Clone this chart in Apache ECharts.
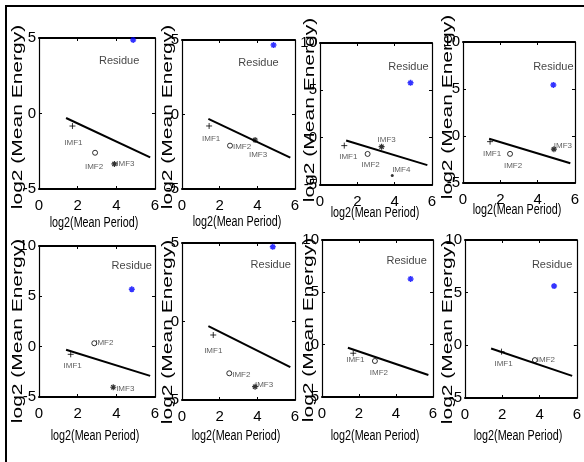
<!DOCTYPE html>
<html>
<head>
<meta charset="utf-8">
<script src="https://cdn.jsdelivr.net/npm/echarts@6/dist/echarts.min.js"></script>
<style>
html, body { margin: 0; padding: 0; background: #fff; }
#chart { width: 584px; height: 462px; }
</style>
</head>
<body>
<div id="chart"></div>
<script>
// spread line, the same in every panel
var lineX = [1.4, 5.75];
var lineY = [-0.3, -2.9];

// x axis: 0..6 step 2, y axis: -5..(5 or 10) step 5
var xMin = 0, xMax = 6, xStep = 2;
var yMin = -5, yStep = 5;
var panelYMax = [5, 5, 10, 10, 10, 5, 10, 10];

var imfNames = ['IMF1', 'IMF2', 'IMF3', 'IMF4'];
var imfX = [
    [1.73, 2.9, 3.9],
    [1.44, 2.55, 3.88],
    [1.3, 2.55, 3.3, 3.87],
    [1.45, 2.52, 4.87],
    [1.64, 2.86, 3.84],
    [1.66, 2.51, 3.88],
    [1.69, 2.86],
    [1.96, 3.75]
];
var imfY = [
    [-0.83, -2.6, -3.34],
    [-0.77, -2.09, -1.71],
    [-0.84, -1.72, -0.95, -4.0],
    [-0.6, -1.9, -1.4],
    [-0.76, 0.34, -4.03],
    [-0.86, -3.3, -4.15],
    [-0.82, -1.56],
    [-0.6, -1.4]
];
var residueX = [4.87, 4.86, 4.85, 4.84, 4.8, 4.82, 4.79, 4.78];
var residueY = [4.87, 4.66, 5.8, 5.43, 5.7, 4.76, 6.28, 5.63];

var xTitle = 'log2(Mean Period)';
var yTitle = 'log2 (Mean Energy)';

//---- layout (pixels) ----
var boxes = [
    [39, 38, 155, 189], [182, 40, 295, 189], [320, 43, 432, 185], [463, 42, 575, 183],
    [39, 246, 155, 397], [182, 243, 295, 400], [322, 240, 433, 397], [465, 240, 577, 398]
];
var imfLabelOffset = [
    [[1, 17], [-1, 14], [11, 0]],
    [[2, 13], [12, 1], [3, 15]],
    [[4, 11], [3, 11], [5, -7], [9, -6]],
    [[2, 12], [3, 12], [9, -3]],
    [[2, 11], [10, 0], [12, 2]],
    [[0, 16], [12, 1], [9, -2]],
    [[2, 7], [4, 12]],
    [[2, 12], [11, 0]]
];
var residueLabelOffset = [[-14, 21], [-15, 18], [-2, -16], [0, -18], [0, -23], [-2, 18], [-4, -18], [-2, -21]];
var yTitlePos = [[18, 117], [168, 117], [310, 110], [448, 107], [18, 331], [168, 332], [309, 330], [448, 332]];
var xTitlePos = [[94, 223], [237, 222], [375, 213], [517, 210], [95, 436], [236, 436], [375, 436], [518, 436]];

var sans = "'Liberation Sans', Arial, sans-serif";

var plusPath = 'path://M0,-5L0,5M-5,0L5,0';
var starPath = 'path://M0,-5L0,5M-5,0L5,0M-3.5,-3.5L3.5,3.5M-3.5,3.5L3.5,-3.5';

function imfSymbol(k) {
    if (k == 0) return { symbol: plusPath, symbolSize: 6, itemStyle: { color: 'transparent', borderColor: '#000', borderWidth: 1 } };
    if (k == 1) return { symbol: 'circle', symbolSize: 5, itemStyle: { color: '#fff', borderColor: '#000', borderWidth: 1 } };
    if (k == 2) return { symbol: starPath, symbolSize: 6, itemStyle: { color: 'transparent', borderColor: '#000', borderWidth: 1.2 } };
    return { symbol: 'circle', symbolSize: 3, itemStyle: { color: '#000', borderWidth: 0 } };
}

var grids = [], xAxes = [], yAxes = [], series = [], graphics = [];

graphics.push({
    type: 'rect',
    shape: { x: 6, y: 6, width: 640, height: 520 },
    style: { fill: 'none', stroke: '#000', lineWidth: 2 },
    silent: true
});

for (var p = 0; p < 8; p++) {
    var b = boxes[p];
    grids.push({ left: b[0], top: b[1], width: b[2] - b[0], height: b[3] - b[1] });

    var xBase = {
        type: 'value', gridIndex: p, min: xMin, max: xMax, interval: xStep,
        axisLine: { show: true, onZero: false, lineStyle: { color: '#000', width: 2 } },
        axisTick: { show: true, inside: true, length: 3, lineStyle: { color: '#000' } },
        splitLine: { show: false }
    };
    xAxes.push(Object.assign({}, xBase, {
        position: 'bottom',
        axisLabel: { show: true, margin: 9, color: '#000', fontSize: 15, fontFamily: sans }
    }));
    xAxes.push(Object.assign({}, xBase, { position: 'top', axisLabel: { show: false } }));

    var yBase = {
        type: 'value', gridIndex: p, min: yMin, max: panelYMax[p], interval: yStep,
        axisLine: { show: true, onZero: false, lineStyle: { color: '#000', width: 1.2 } },
        axisTick: { show: true, inside: true, length: 3, lineStyle: { color: '#000' } },
        splitLine: { show: false }
    };
    yAxes.push(Object.assign({}, yBase, {
        position: 'left',
        axisLabel: { show: true, margin: 3, color: '#000', fontSize: 15, fontFamily: sans }
    }));
    yAxes.push(Object.assign({}, yBase, { position: 'right', axisLabel: { show: false } }));

    // spread line
    var lineData = [];
    for (var i = 0; i < lineX.length; i++) lineData.push([lineX[i], lineY[i]]);
    series.push({
        type: 'line', xAxisIndex: 2 * p, yAxisIndex: 2 * p,
        data: lineData, symbol: 'none',
        lineStyle: { color: '#000', width: 2 }
    });

    // IMF points
    var pts = [];
    for (var k = 0; k < imfX[p].length; k++) {
        var s = imfSymbol(k);
        pts.push({
            name: imfNames[k],
            value: [imfX[p][k], imfY[p][k]],
            symbol: s.symbol, symbolSize: s.symbolSize, itemStyle: s.itemStyle,
            label: { offset: imfLabelOffset[p][k] }
        });
    }
    series.push({
        type: 'scatter', xAxisIndex: 2 * p, yAxisIndex: 2 * p,
        data: pts,
        label: {
            show: true, position: 'inside', formatter: '{b}',
            fontSize: 8, color: '#333', fontFamily: sans
        },
        emphasis: { disabled: true }
    });

    // residue
    series.push({
        type: 'scatter', xAxisIndex: 2 * p, yAxisIndex: 2 * p,
        data: [{ name: 'Residue', value: [residueX[p], residueY[p]] }],
        symbol: starPath, symbolSize: 6,
        itemStyle: { color: 'transparent', borderColor: '#0000ff', borderWidth: 1.5 },
        label: {
            show: true, position: 'inside', formatter: '{b}',
            offset: residueLabelOffset[p],
            fontSize: 11, color: '#111', fontFamily: sans
        },
        emphasis: { disabled: true }
    });

    // axis titles (the source figure is squeezed sideways, so the text is scaled to fit)
    graphics.push({
        type: 'text', x: xTitlePos[p][0], y: xTitlePos[p][1], scaleX: 0.77, silent: true,
        style: {
            text: xTitle, fill: '#000', font: '14px ' + sans,
            align: 'center', verticalAlign: 'middle',
            textAlign: 'center', textVerticalAlign: 'middle'
        }
    });
    graphics.push({
        type: 'text', x: yTitlePos[p][0], y: yTitlePos[p][1], rotation: Math.PI / 2, scaleX: 1.5, silent: true,
        style: {
            text: yTitle, fill: '#000', font: '14px ' + sans,
            align: 'center', verticalAlign: 'middle',
            textAlign: 'center', textVerticalAlign: 'middle'
        }
    });
}

var chart = echarts.init(document.getElementById('chart'));
chart.setOption({
    animation: false,
    backgroundColor: '#fff',
    grid: grids,
    xAxis: xAxes,
    yAxis: yAxes,
    series: series,
    graphic: graphics
});
</script>
</body>
</html>
